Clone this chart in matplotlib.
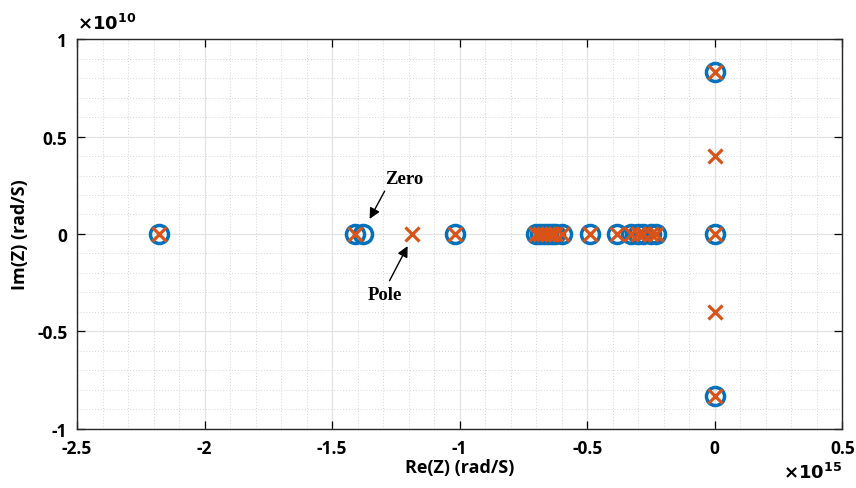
import numpy as np
import matplotlib
matplotlib.use("Agg")
import matplotlib.pyplot as plt
from matplotlib.ticker import MultipleLocator

plt.rcParams['axes.unicode_minus'] = False
plt.rcParams['font.family'] = ['Open Sans', 'DejaVu Sans']
plt.rcParams['font.weight'] = 'bold'
plt.rcParams['mathtext.default'] = 'bf'

# --- dados (Re em 1e15 rad/s, Im em 1e10 rad/s) ---
zero_re = [-2.18, -1.41, -1.38, -1.02,
           -0.70, -0.685, -0.67, -0.655, -0.64, -0.625, -0.60,
           -0.49, -0.385,
           -0.33, -0.30, -0.28, -0.25, -0.23,
           0.0, 0.0, 0.0]
zero_im = [0.0] * 18 + [0.83, 0.0, -0.83]

pole_re = [-2.18, -1.41, -1.185, -1.02,
           -0.70, -0.685, -0.67, -0.655, -0.64, -0.625, -0.60,
           -0.49, -0.385,
           -0.33, -0.30, -0.28, -0.25, -0.23,
           0.0, 0.0, 0.0, 0.0, 0.0]
pole_im = [0.0] * 18 + [0.83, 0.4, 0.0, -0.4, -0.83]

blue = '#0072BD'
orange = '#D95319'

fig = plt.figure(figsize=(8.56, 4.89), dpi=100)
ax = fig.add_axes([0.090, 0.121, 0.894, 0.797])

ax.plot(zero_re, zero_im, linestyle='none', marker='o', markersize=13,
        markerfacecolor='none', markeredgecolor=blue, markeredgewidth=2.5)
ax.plot(pole_re, pole_im, linestyle='none', marker='x', markersize=10,
        markeredgecolor=orange, markeredgewidth=2.3)

ax.set_xlim(-2.5, 0.5)
ax.set_ylim(-1, 1)
ax.xaxis.set_major_locator(MultipleLocator(0.5))
ax.yaxis.set_major_locator(MultipleLocator(0.5))
ax.xaxis.set_minor_locator(MultipleLocator(0.1))
ax.yaxis.set_minor_locator(MultipleLocator(0.1))
ax.xaxis.set_major_formatter(plt.FuncFormatter(lambda v, p: '%g' % round(v, 2)))
ax.yaxis.set_major_formatter(plt.FuncFormatter(lambda v, p: '%g' % round(v, 2)))

ax.grid(True, which='major', color='#e3e3e3', linewidth=0.9)
ax.grid(True, which='minor', color='#d5d5d5', linestyle=(0, (1, 2)), linewidth=0.7)
ax.set_axisbelow(True)

ax.tick_params(which='major', direction='in', length=6, width=0.9,
               top=True, right=True, labelsize=12.5, pad=7)
ax.tick_params(which='minor', length=0)
for s in ax.spines.values():
    s.set_linewidth(1.0)
    s.set_color('#262626')

ax.set_xlabel('Re(Z) (rad/S)', fontsize=13, fontweight='bold', labelpad=1)
ax.set_ylabel('Im(Z) (rad/S)', fontsize=13, fontweight='bold', labelpad=6)

# expoentes dos eixos
ax.text(0.0, 1.015, r'$\times\mathbf{10^{10}}$', transform=ax.transAxes,
        fontsize=13, ha='left', va='bottom')
ax.text(1.0, -0.085, r'$\times\mathbf{10^{15}}$', transform=ax.transAxes,
        fontsize=13, ha='right', va='top')

# anotações
arrow = dict(arrowstyle='-|>', color='black', lw=1.0, mutation_scale=16,
             shrinkA=0, shrinkB=0)
ax.annotate('', xy=(-1.353, 0.077), xytext=(-1.294, 0.22), arrowprops=arrow)
ax.text(-1.216, 0.284, 'Zero', fontsize=13.5, fontweight='bold',
        family='Liberation Serif', ha='center', va='center')
ax.annotate('', xy=(-1.204, -0.062), xytext=(-1.275, -0.24), arrowprops=arrow)
ax.text(-1.294, -0.31, 'Pole', fontsize=13.5, fontweight='bold',
        family='Liberation Serif', ha='center', va='center')

fig.savefig('out.png', dpi=100)
